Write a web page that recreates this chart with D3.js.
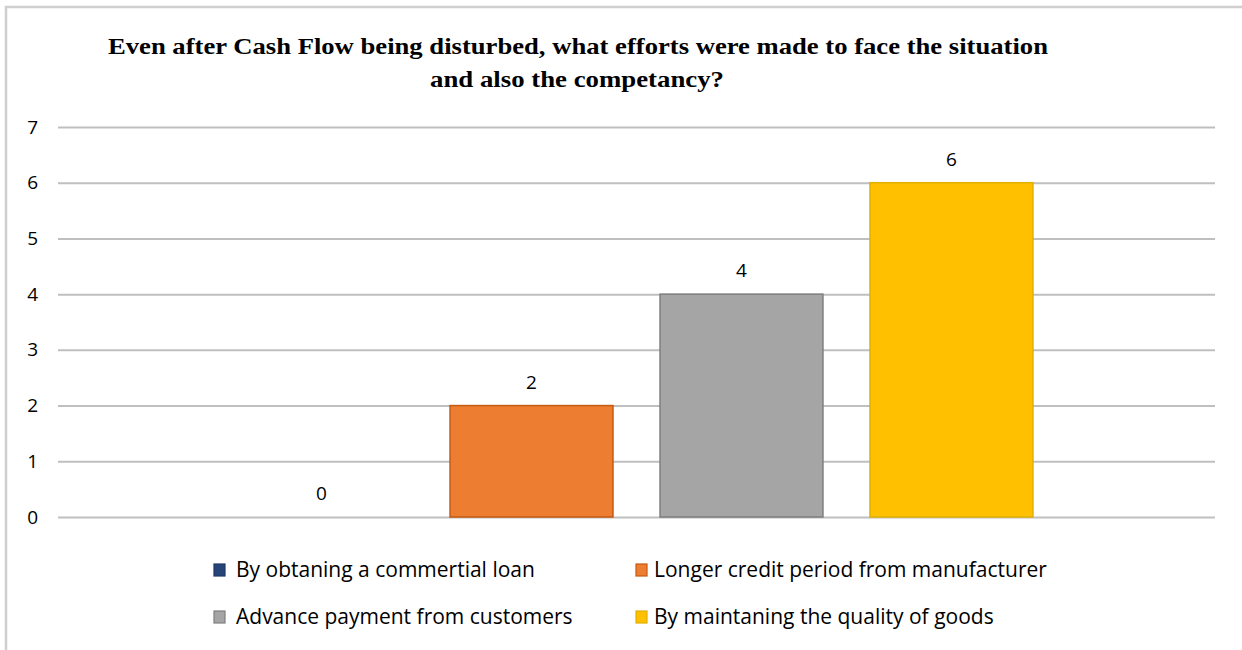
<!DOCTYPE html>
<html>
<head>
<meta charset="utf-8">
<script src="https://cdn.jsdelivr.net/npm/d3@7"></script>
<style>
  body { margin: 0; background: #fff; }
</style>
</head>
<body>
<div id="chart"></div>
<script>
// data
const titleLines = [
    "Even after Cash Flow being disturbed,  what efforts were made to face the situation",
    "and also the competancy?"
]
const series = [
    "By obtaning a commertial loan",
    "Longer credit period from manufacturer",
    "Advance payment from customers",
    "By maintaning the quality of goods"
]
const values = [0, 2, 4, 6]
const yTicks = [0, 1, 2, 3, 4, 5, 6, 7]

const fills = ["#264478", "#ED7D31", "#A5A5A5", "#FFC000"]
const strokes = ["#1f3864", "#C55A11", "#7F7F7F", "#E0B000"]

const width = 1242;
const height = 650;
const margin = { top: 127, right: 27, bottom: 133, left: 58 }

const svg = d3.select("#chart")
    .append("svg")
    .attr("width", width)
    .attr("height", height)

// outer frame (only top and left visible)
svg.append("path")
    .attr("d", `M6,${height} L6,7 L${width},7`)
    .attr("fill", "none")
    .attr("stroke", "#cfcfcf")
    .attr("stroke-width", 2.5)

// scales
const y = d3.scaleLinear()
    .domain([0, 7])
    .range([height - margin.bottom, margin.top])

const x = d3.scaleBand()
    .domain(series)
    .range([margin.left, width - margin.right])
    .paddingInner(0.224)
    .paddingOuter(0.867)

// title
svg.append("g")
    .selectAll("text")
    .data(titleLines)
    .join("text")
        .attr("x", (d, i) => i === 0 ? 578 : 577)
        .attr("y", (d, i) => 54 + i * 33)
        .attr("text-anchor", "middle")
        .attr("font-family", "'Liberation Serif', 'Times New Roman', serif")
        .attr("font-weight", "bold")
        .attr("font-size", 23)
        .attr("textLength", (d, i) => i === 0 ? 940 : 294)
        .attr("lengthAdjust", "spacingAndGlyphs")
        .attr("fill", "#000")
        .text(d => d)

// gridlines + y axis
const yAxis = svg.append("g")
    .attr("transform", `translate(${margin.left}, 0)`)
    .call(d3.axisLeft(y)
        .tickValues(yTicks)
        .tickSize(-(width - margin.left - margin.right))
        .tickPadding(20)
        .tickFormat(d3.format("d")))

yAxis.select(".domain").remove()
yAxis.selectAll(".tick line")
    .attr("stroke", "#bfbfbf")
    .attr("stroke-width", 2)
yAxis.selectAll(".tick text")
    .attr("font-family", "'Open Sans', 'Noto Sans', sans-serif")
    .attr("font-size", 19)
    .attr("fill", "#000")

// bars
svg.append("g")
    .selectAll("rect")
    .data(values)
    .join("rect")
        .attr("x", (d, i) => x(series[i]))
        .attr("y", d => y(d))
        .attr("width", x.bandwidth())
        .attr("height", d => y(0) - y(d))
        .attr("fill", (d, i) => fills[i])
        .attr("stroke", (d, i) => d > 0 ? strokes[i] : "none")
        .attr("stroke-width", 1.5)

// value labels
svg.append("g")
    .selectAll("text")
    .data(values)
    .join("text")
        .attr("x", (d, i) => x(series[i]) + x.bandwidth() / 2)
        .attr("y", d => y(d) - 17)
        .attr("text-anchor", "middle")
        .attr("font-family", "'Open Sans', 'Noto Sans', sans-serif")
        .attr("font-size", 19)
        .attr("fill", "#000")
        .text(d => d)

// legend
const legend = svg.append("g")
    .selectAll("g")
    .data(series)
    .join("g")
        .attr("transform", (d, i) => `translate(${i % 2 === 0 ? 214 : 636}, ${570 + Math.floor(i / 2) * 47})`)

legend.append("rect")
    .attr("x", 0)
    .attr("y", -6)
    .attr("width", 11)
    .attr("height", 12)
    .attr("fill", (d, i) => fills[i])
    .attr("stroke", (d, i) => strokes[i])
    .attr("stroke-width", 1.2)

legend.append("text")
    .attr("x", (d, i) => i % 2 === 0 ? 22 : 18)
    .attr("y", 0)
    .attr("dy", "0.35em")
    .attr("font-family", "'Open Sans', 'Noto Sans', sans-serif")
    .attr("font-size", 21)
    .attr("fill", "#000")
    .text(d => d)
</script>
</body>
</html>
